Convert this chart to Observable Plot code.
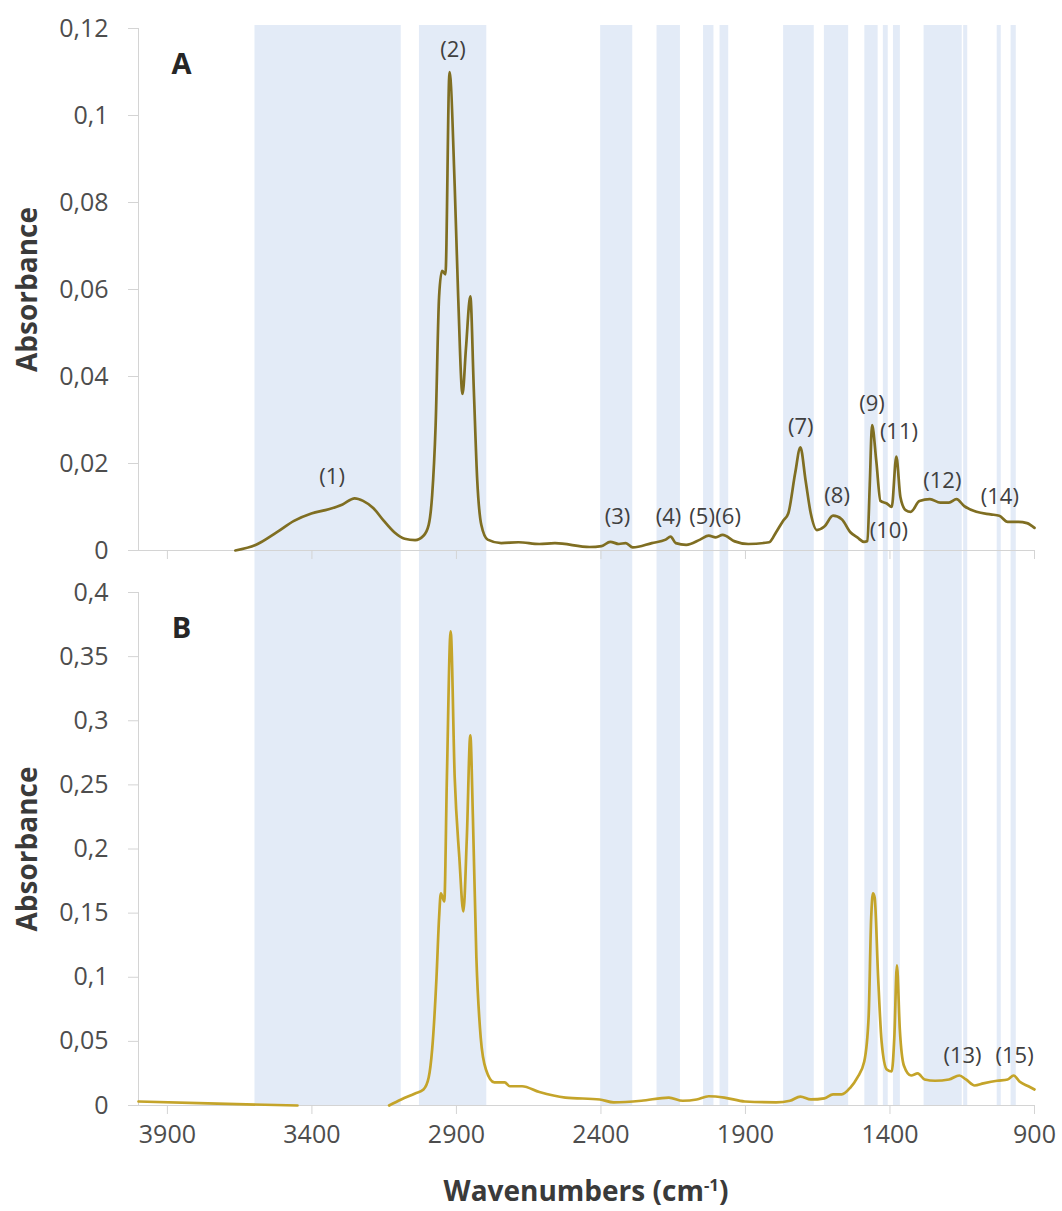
<!DOCTYPE html>
<html><head><meta charset="utf-8">
<script src="https://cdn.jsdelivr.net/npm/d3@7"></script>
<script src="https://cdn.jsdelivr.net/npm/@observablehq/plot@0.6"></script>
<style>
body{margin:0;background:#fff;}
#wrap{position:relative;width:1062px;height:1211px;font-family:"Open Sans",sans-serif;background:#fff;overflow:hidden}
#a{position:absolute;left:0;top:0}
#b{position:absolute;left:0;top:570px}
#xt{position:absolute;left:138px;width:896px;top:1174px;height:32px;text-align:center;font-weight:700;font-size:28px;color:#3a3a3a;line-height:32px;white-space:nowrap}
#xt sup{font-size:0.6em;vertical-align:super;line-height:0}
</style></head><body>
<div id="wrap"><div id="a"></div><div id="b"></div><div id="xt">Wavenumbers (cm<sup>-1</sup>)</div></div>
<script>
// ---- data ----
const xTicks = [3900, 3400, 2900, 2400, 1900, 1400, 900];
const yTicksA = [0, 0.02, 0.04, 0.06, 0.08, 0.1, 0.12];
const yTicksB = [0, 0.05, 0.1, 0.15, 0.2, 0.25, 0.3, 0.35, 0.4];

const bandStart = [3597, 3028, 2401, 2206, 2045, 1988, 1768, 1627, 1487, 1423, 1388, 1282, 1145, 1029, 981];
const bandEnd   = [3091, 2795, 2290, 2125, 2009, 1958, 1662, 1543, 1441, 1406, 1364, 1150, 1131, 1015, 963];

const wnA = [3665,3593,3521,3462,3402,3342,3294,3252,3223,3187,3151,3115,3079,3043,3014,2996,2984,2972,2960,2950,2938,2924,2906,2894,2879,2867,2852,2840,2828,2814,2792,2745,2685,2613,2559,2439,2398,2368,2338,2314,2290,2224,2176,2159,2141,2105,2057,2027,2003,1979,1937,1890,1818,1794,1770,1752,1728,1710,1692,1674,1653,1627,1597,1567,1537,1513,1490,1478,1470,1462,1447,1433,1411,1394,1378,1364,1346,1328,1298,1262,1226,1196,1170,1143,1101,1052,1022,993,956,926,900];
const absA = [0,0.0013,0.0042,0.0068,0.0085,0.0095,0.0106,0.0120,0.0114,0.0097,0.0068,0.0042,0.0027,0.0024,0.0034,0.0059,0.0127,0.0288,0.0584,0.0643,0.0635,0.1100,0.0838,0.0584,0.0360,0.0465,0.0584,0.0372,0.0161,0.0059,0.0025,0.0017,0.0019,0.0015,0.0017,0.0008,0.0010,0.0020,0.0015,0.0017,0.0007,0.0017,0.0025,0.0032,0.0017,0.0013,0.0025,0.0034,0.0030,0.0036,0.0021,0.0015,0.0019,0.0042,0.0068,0.0085,0.0178,0.0237,0.0161,0.0085,0.0047,0.0055,0.0080,0.0072,0.0042,0.0030,0.0020,0.0022,0.0150,0.0288,0.0203,0.0114,0.0108,0.0100,0.0216,0.0123,0.0093,0.0089,0.0114,0.0118,0.0110,0.0110,0.0118,0.0102,0.0089,0.0083,0.0080,0.0066,0.0066,0.0063,0.0052];

const wnB = [4000,3760,3450,3300,3133,3091,3043,3014,2996,2984,2969,2960,2954,2942,2933,2920,2906,2890,2876,2864,2852,2843,2831,2816,2798,2769,2733,2715,2673,2613,2523,2404,2356,2260,2165,2117,2069,2027,1973,1902,1794,1746,1710,1674,1627,1597,1567,1537,1513,1489,1474,1465,1459,1453,1441,1429,1411,1394,1385,1376,1366,1352,1327,1304,1280,1244,1196,1160,1137,1107,1077,1029,993,972,952,921,900];
const absB = [0.0031,0.0016,0,null,0,0.0047,0.0094,0.0125,0.0218,0.0437,0.0998,0.1466,0.1654,0.1591,0.2558,0.3697,0.2558,0.1934,0.1513,0.2090,0.2886,0.2246,0.1154,0.0530,0.0281,0.0181,0.0181,0.0150,0.0150,0.0105,0.0062,0.0047,0.0025,0.0037,0.0062,0.0037,0.0047,0.0072,0.0062,0.0031,0.0025,0.0037,0.0069,0.0047,0.0056,0.0087,0.0087,0.0140,0.0218,0.0343,0.0686,0.1466,0.1654,0.1622,0.0998,0.0499,0.0281,0.0265,0.0530,0.1092,0.0593,0.0312,0.0234,0.0250,0.0203,0.0193,0.0203,0.0234,0.0203,0.0156,0.0172,0.0193,0.0203,0.0234,0.0187,0.0150,0.0125];

const peakTextA = ["(1)","(2)","(3)","(4)","(5)","(6)","(7)","(8)","(9)","(10)","(11)","(12)","(14)"];
const peakWnA   = [3330, 2912, 2343, 2166, 2050, 1960, 1709, 1583, 1462, 1404, 1369, 1219, 1020];
const peakAbsA  = [0.0169, 0.1151, 0.0076, 0.0076, 0.0076, 0.0076, 0.0283, 0.0126, 0.0337, 0.0046, 0.0272, 0.0161, 0.0123];
const peakTextB = ["(13)", "(15)"];
const peakWnB   = [1149, 969];
const peakAbsB  = [0.039, 0.039];

// ---- build tables ----
const bands = bandStart.map((s, i) => ({s, e: bandEnd[i]}));
const specA = wnA.map((w, i) => ({w, a: absA[i]}));
const specB = wnB.map((w, i) => ({w, a: absB[i]}));
const peaksA = peakTextA.map((t, i) => ({t, w: peakWnA[i], a: peakAbsA[i]}));
const peaksB = peakTextB.map((t, i) => ({t, w: peakWnB[i], a: peakAbsB[i]}));
const fmt = d => String(d).replace(".", ",");

const BAND = "#e3ebf7", AXIS = "#d4d4d4", TICKTXT = "#4d4d4d", TITLE = "#3a3a3a";
const common = {
  width: 1062, marginLeft: 138, marginRight: 28,
  x: {domain: [4000, 900]},
  style: {fontFamily: "'Open Sans', sans-serif", background: "transparent", overflow: "visible"}
};

function panel({height, marginTop, marginBottom, ymax, yTicks, spec, stroke, peaks, letter, insetTop, insetBottom, xLabels}) {
  return Plot.plot({
    ...common, height, marginTop, marginBottom,
    y: {domain: [0, ymax]},
    marks: [
      Plot.rect(bands, {x1: "s", x2: "e", y1: 0, y2: ymax, fill: BAND, insetTop, insetBottom}),
      Plot.ruleX([4000], {y1: 0, y2: ymax, stroke: AXIS}),
      Plot.ruleY([0], {stroke: AXIS}),
      Plot.axisY({ticks: yTicks, tickFormat: fmt, tickSize: 10, tickPadding: 20, fontSize: 25, stroke: AXIS, fill: TICKTXT, label: null}),
      Plot.axisX({ticks: xTicks, tickSize: 9, tickPadding: 11, fontSize: 25, stroke: AXIS, fill: TICKTXT, label: null,
                  tickFormat: xLabels ? (d => String(d)) : (() => "")}),
      Plot.line(spec, {x: "w", y: "a", stroke, strokeWidth: 2.7, curve: "monotone-x"}),
      Plot.text(peaks, {x: "w", y: "a", text: "t", fontSize: 22, fill: "#404040"}),
      Plot.text([letter], {text: d => d, frameAnchor: "top-left", dx: 43, dy: 36, textAnchor: "middle", lineAnchor: "middle",
                           fontSize: 29, fontWeight: "bold", fill: "#262626"}),
      Plot.text(["Absorbance"], {text: d => d, frameAnchor: "left", dx: -110, rotate: -90, textAnchor: "middle", lineAnchor: "middle",
                                 fontSize: 28, fontWeight: "bold", fill: TITLE})
    ]
  });
}

document.getElementById("a").append(panel({
  height: 570, marginTop: 28, marginBottom: 20, ymax: 0.12, yTicks: yTicksA, spec: specA,
  stroke: "#7f6e22", peaks: peaksA, letter: "A", insetTop: -3, insetBottom: -20, xLabels: false
}));
document.getElementById("b").append(panel({
  height: 600, marginTop: 22, marginBottom: 65, ymax: 0.4, yTicks: yTicksB, spec: specB,
  stroke: "#c4a42a", peaks: peaksB, letter: "B", insetTop: -22, insetBottom: 0, xLabels: true
}));
</script>
</body></html>
